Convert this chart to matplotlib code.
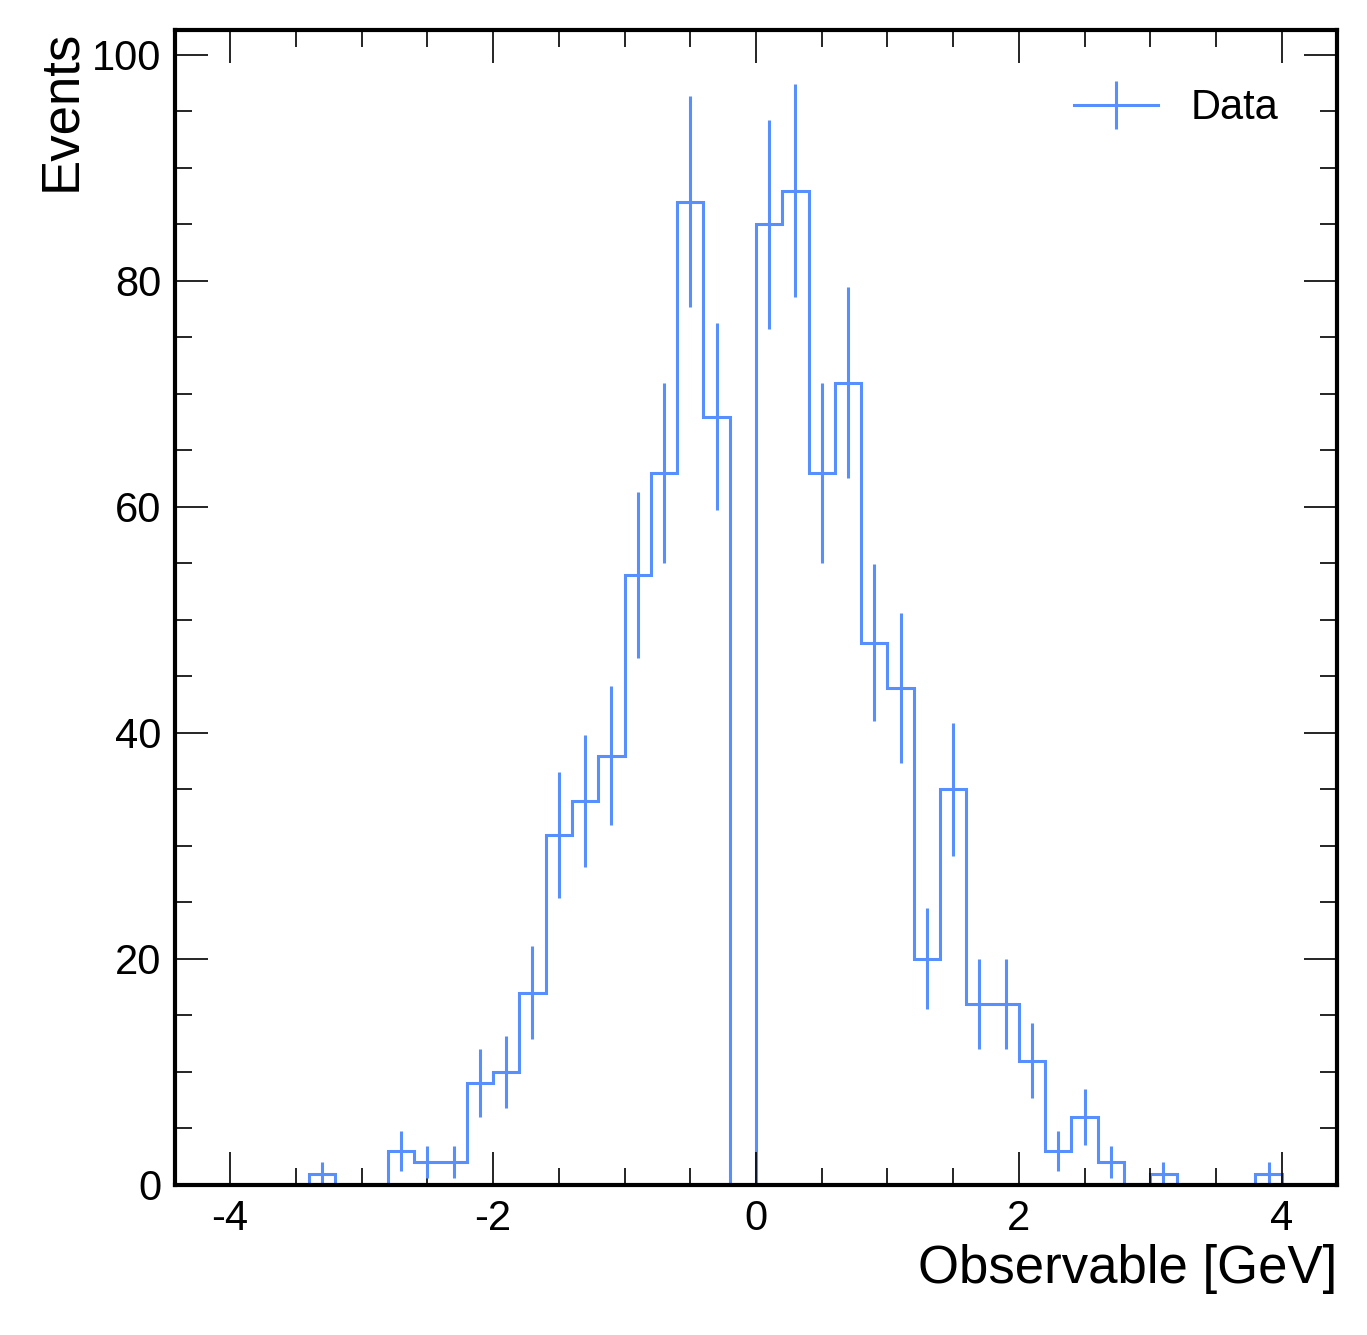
import numpy as np
import matplotlib
matplotlib.use("Agg")
from matplotlib import pyplot as plt
from matplotlib.ticker import MultipleLocator, AutoMinorLocator

# histogram contents, 40 bins from -4 to 4
edges = np.linspace(-4, 4, 41)
counts = np.array([0, 0, 0, 1, 0, 0, 3, 2, 2, 9,
                   10, 17, 31, 34, 38, 54, 63, 87, 68, 0,
                   85, 88, 63, 71, 48, 44, 20, 35, 16, 16,
                   11, 3, 6, 2, 0, 1, 0, 0, 0, 1])

plt.rcParams['font.family'] = ['Liberation Sans', 'DejaVu Sans']
plt.rcParams['axes.unicode_minus'] = False
color = "#5790fc"

fig = plt.figure(figsize=(13.67, 13.35), dpi=100)
ax = fig.add_axes([0.128, 0.1124, 0.85, 0.8651])

ax.stairs(counts, edges, color=color, linewidth=2.2)
centers = 0.5 * (edges[1:] + edges[:-1])
mask = counts > 0
ax.errorbar(centers[mask], counts[mask], yerr=np.sqrt(counts[mask]),
            fmt="none", ecolor=color, elinewidth=2.2)
ax.plot([], [], color=color, linewidth=2.2, marker="|", markersize=34,
        markeredgewidth=2.2, label="Data")

ax.set_xlim(-4.42, 4.42)
ax.set_ylim(0, 102.2)
ax.xaxis.set_major_locator(MultipleLocator(2))
ax.xaxis.set_minor_locator(AutoMinorLocator(4))
ax.yaxis.set_major_locator(MultipleLocator(20))
ax.yaxis.set_minor_locator(AutoMinorLocator(4))
ax.tick_params(which="both", direction="in", top=True, right=True, labelsize=30, width=1.2)
ax.tick_params(which="major", length=24, pad=10)
ax.tick_params(which="minor", length=12)
for s in ax.spines.values():
    s.set_linewidth(3)

ax.set_xlabel("Observable [GeV]", fontsize=38, loc="right")
ax.set_ylabel("Events", fontsize=38, loc="top")
ax.legend(loc="upper right", fontsize=30, frameon=False, handlelength=2,
          borderaxespad=1.0)

fig.savefig("out.png")
